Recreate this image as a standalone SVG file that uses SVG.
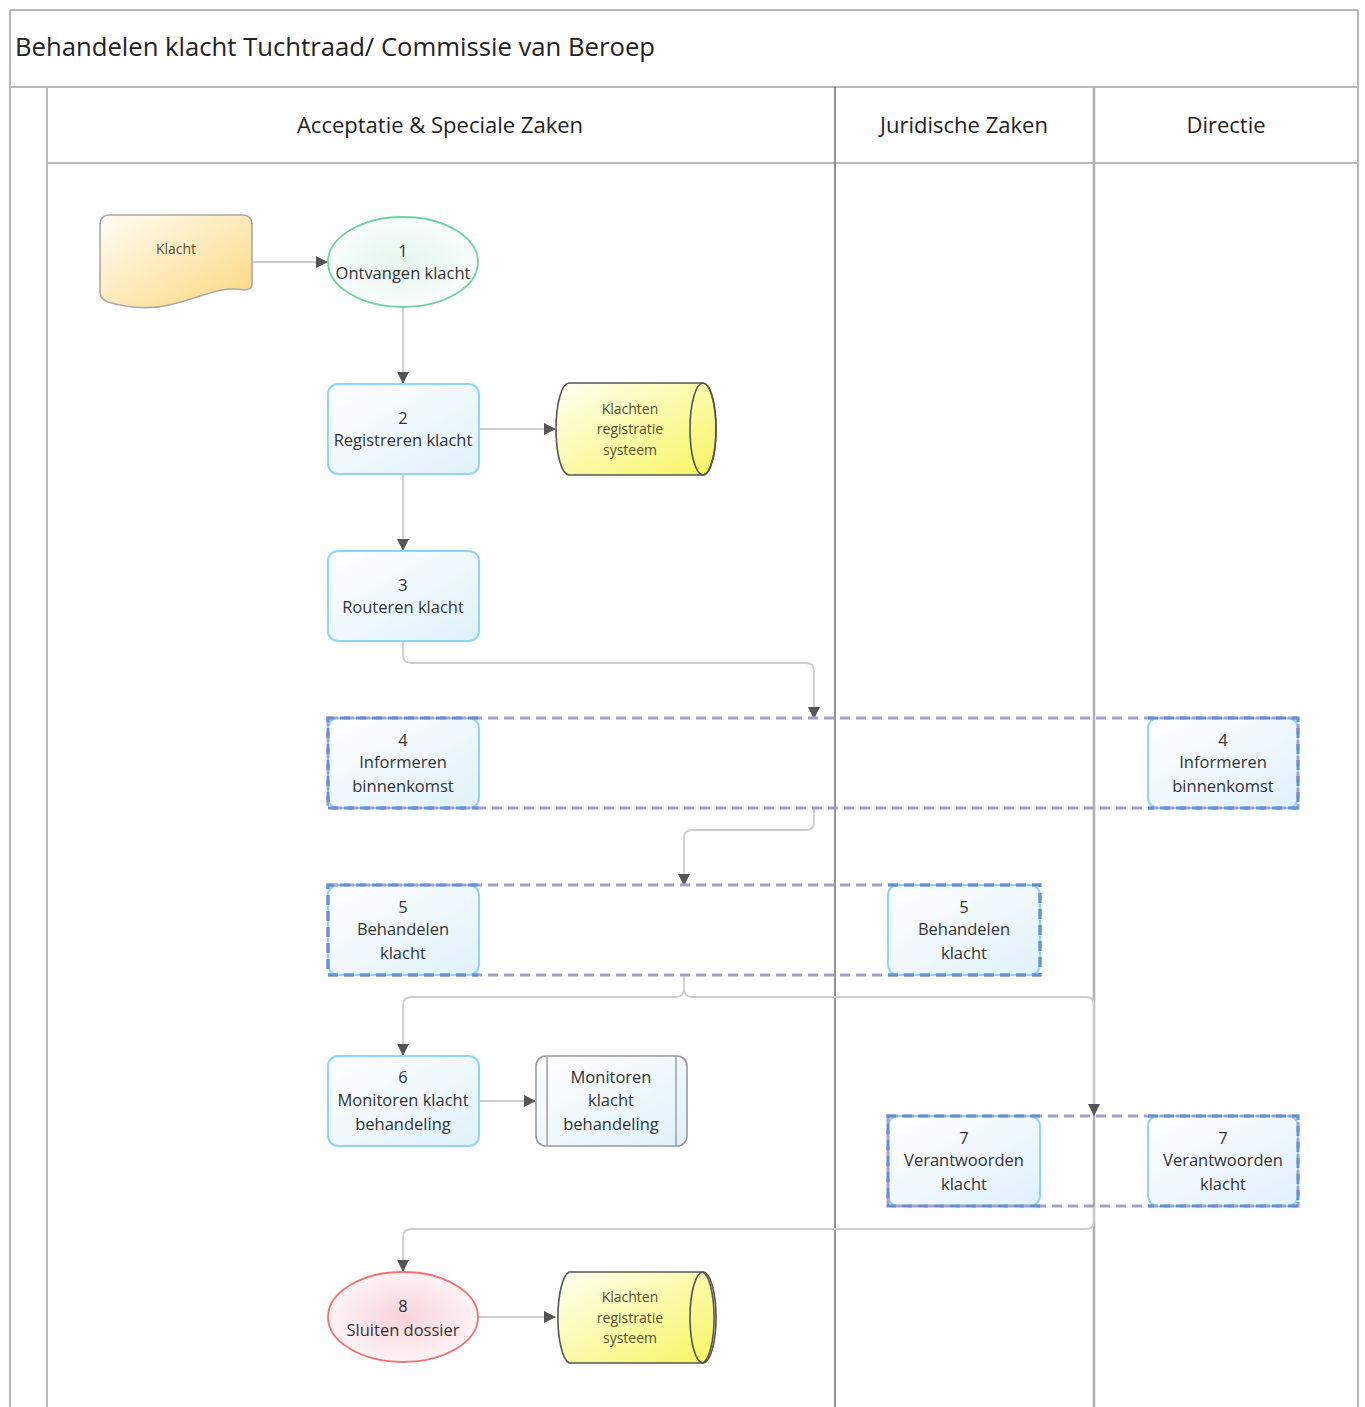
<svg xmlns="http://www.w3.org/2000/svg" width="1365" height="1407" viewBox="0 0 1365 1407">
<style>
.frame{stroke:#b8b8b8;stroke-width:2;fill:none}
.t{font-family:"Open Sans","Liberation Sans",sans-serif;fill:#333;text-anchor:middle}
.title{font-family:"Open Sans","Liberation Sans",sans-serif;fill:#222;font-size:25px}
.hdr{font-size:22px;fill:#222}
.n{font-size:16.5px}
.s{font-size:14px;fill:#5a5030}
.box{fill:url(#gBox);stroke:#8fd6f6;stroke-width:2}
.band{fill:none;stroke:#a39fd2;stroke-width:3;stroke-dasharray:10 6}
.bandb{fill:none;stroke:#5f90d8;stroke-width:3;stroke-dasharray:10 6}
.conn{fill:none;stroke:#cdcdcd;stroke-width:1.8}
.cyl{fill:url(#gCyl);stroke:#555;stroke-width:1.6}
</style>
<defs>
<linearGradient id="gBox" x1="0" y1="0" x2="1" y2="1"><stop offset="0" stop-color="#ffffff"/><stop offset="1" stop-color="#dff1fb"/></linearGradient>
<linearGradient id="gDoc" x1="0" y1="0" x2="1" y2="1"><stop offset="0" stop-color="#fffdf5"/><stop offset="1" stop-color="#fcd77e"/></linearGradient>
<linearGradient id="gCyl" x1="0" y1="0" x2="1" y2="1"><stop offset="0" stop-color="#fffff2"/><stop offset="1" stop-color="#f6f560"/></linearGradient>
<radialGradient id="gGreen"><stop offset="0" stop-color="#e4f6ee"/><stop offset="1" stop-color="#f8fdfb"/></radialGradient>
<radialGradient id="gRed"><stop offset="0" stop-color="#f7d3d9"/><stop offset="1" stop-color="#fdf3f5"/></radialGradient>
<marker id="arr" markerWidth="12" markerHeight="12" refX="11" refY="6" orient="auto" markerUnits="userSpaceOnUse"><path d="M0,0 L12,6 L0,12 Z" fill="#555"/></marker>
</defs>

<g id="frame">
<line class="frame" x1="10" y1="10" x2="1358" y2="10"/>
<line class="frame" x1="10" y1="10" x2="10" y2="1407"/>
<line class="frame" x1="1358" y1="10" x2="1358" y2="1407"/>
<line class="frame" x1="10" y1="87" x2="1358" y2="87"/>
<line class="frame" x1="47" y1="87" x2="47" y2="1407"/>
<line class="frame" x1="47" y1="163" x2="1358" y2="163"/>
<line x1="835" y1="87" x2="835" y2="1407" stroke="#7a7a7a" stroke-width="1.6"/>
<line x1="1094" y1="87" x2="1094" y2="1407" stroke="#b0b0b0" stroke-width="2.5"/>
<text class="title" x="15" y="56" textLength="640" lengthAdjust="spacingAndGlyphs">Behandelen klacht Tuchtraad/ Commissie van Beroep</text>
<text class="t hdr" x="440" y="133">Acceptatie &amp; Speciale Zaken</text>
<text class="t hdr" x="964" y="133">Juridische Zaken</text>
<text class="t hdr" x="1226" y="133">Directie</text>
</g>

<g id="connectors">
<path class="conn" d="M252,262 L327,262" marker-end="url(#arr)"/>
<path class="conn" d="M403,307 L403,383" marker-end="url(#arr)"/>
<path class="conn" d="M479,429 L555,429" marker-end="url(#arr)"/>
<path class="conn" d="M403,474 L403,550" marker-end="url(#arr)"/>
<path class="conn" d="M403,641 L403,655 Q403,663 411,663 L806,663 Q814,663 814,671 L814,718" marker-end="url(#arr)"/>
<path class="conn" d="M814,808 L814,822 Q814,830 806,830 L692,830 Q684,830 684,838 L684,885" marker-end="url(#arr)"/>
<path class="conn" d="M684,975 L684,989 Q684,997 676,997 L411,997 Q403,997 403,1005 L403,1055" marker-end="url(#arr)"/>
<path class="conn" d="M684,989 Q684,997 692,997 L1086,997 Q1094,997 1094,1005 L1094,1115" marker-end="url(#arr)"/>
<path class="conn" d="M479,1101 L535,1101" marker-end="url(#arr)"/>
<path class="conn" d="M1094,1206 L1094,1221 Q1094,1229 1086,1229 L411,1229 Q403,1229 403,1237 L403,1271" marker-end="url(#arr)"/>
<path class="conn" d="M478,1317 L555,1317" marker-end="url(#arr)"/>
</g>

<g id="klacht">
<path d="M100,225 Q100,215 110,215 L242,215 Q252,215 252,225 L252,284 Q252,290 244,290 C205,282 175,322 108,302 Q100,299 100,292 Z" fill="url(#gDoc)" stroke="#aaa" stroke-width="1.6"/>
<text class="t s" x="176" y="254">Klacht</text>
</g>

<g id="n1">
<ellipse cx="403" cy="262" rx="75" ry="45" fill="url(#gGreen)" stroke="#6dd3a0" stroke-width="1.8"/>
<text class="t n" x="403" y="257">1</text>
<text class="t n" x="403" y="279">Ontvangen klacht</text>
</g>

<g id="n2">
<rect class="box" x="328" y="384" width="151" height="90" rx="10"/>
<text class="t n" x="403" y="424">2</text>
<text class="t n" x="403" y="446">Registreren klacht</text>
</g>

<g id="db1">
<path class="cyl" d="M569,383 L703,383 A13,46 0 0 1 703,475 L569,475 A13,46 0 0 1 569,383 Z"/>
<ellipse cx="703" cy="429" rx="13" ry="46" fill="none" stroke="#555" stroke-width="1.6"/>
<text class="t s" x="630" y="414">Klachten</text>
<text class="t s" x="630" y="434">registratie</text>
<text class="t s" x="630" y="455">systeem</text>
</g>

<g id="n3">
<rect class="box" x="328" y="551" width="151" height="90" rx="10"/>
<text class="t n" x="403" y="591">3</text>
<text class="t n" x="403" y="613">Routeren klacht</text>
</g>

<g id="n4">
<rect class="box" x="328" y="718" width="151" height="90" rx="10"/>
<rect class="box" x="1148" y="718" width="150" height="90" rx="10"/>
<rect class="band" x="328" y="718" width="970" height="90"/>
<path class="bandb" d="M478,718 L328,718 L328,808 L478,808"/>
<path class="bandb" d="M1148,718 L1298,718 L1298,808 L1148,808"/>
<text class="t n" x="403" y="746">4</text>
<text class="t n" x="403" y="768">Informeren</text>
<text class="t n" x="403" y="792">binnenkomst</text>
<text class="t n" x="1223" y="746">4</text>
<text class="t n" x="1223" y="768">Informeren</text>
<text class="t n" x="1223" y="792">binnenkomst</text>
</g>

<g id="n5">
<rect class="box" x="328" y="885" width="151" height="90" rx="10"/>
<rect class="box" x="888" y="885" width="152" height="90" rx="10"/>
<rect class="band" x="328" y="885" width="712" height="90"/>
<path class="bandb" d="M478,885 L328,885 L328,975 L478,975"/>
<path class="bandb" d="M888,885 L1040,885 L1040,975 L888,975"/>
<text class="t n" x="403" y="913">5</text>
<text class="t n" x="403" y="935">Behandelen</text>
<text class="t n" x="403" y="959">klacht</text>
<text class="t n" x="964" y="913">5</text>
<text class="t n" x="964" y="935">Behandelen</text>
<text class="t n" x="964" y="959">klacht</text>
</g>

<g id="n6">
<rect class="box" x="328" y="1056" width="151" height="90" rx="10"/>
<text class="t n" x="403" y="1083">6</text>
<text class="t n" x="403" y="1106">Monitoren klacht</text>
<text class="t n" x="403" y="1130">behandeling</text>
</g>

<g id="proc">
<rect x="536" y="1056" width="151" height="90" rx="10" fill="url(#gBox)" stroke="#9a9a9a" stroke-width="1.6"/>
<line x1="547" y1="1056" x2="547" y2="1146" stroke="#9a9a9a" stroke-width="1.4"/>
<line x1="676" y1="1056" x2="676" y2="1146" stroke="#9a9a9a" stroke-width="1.4"/>
<text class="t n" x="611" y="1083">Monitoren</text>
<text class="t n" x="611" y="1106">klacht</text>
<text class="t n" x="611" y="1130">behandeling</text>
</g>

<g id="n7">
<rect class="box" x="888" y="1116" width="152" height="90" rx="10"/>
<rect class="box" x="1148" y="1116" width="150" height="90" rx="10"/>
<rect class="band" x="888" y="1116" width="410" height="90"/>
<path class="bandb" d="M1040,1116 L888,1116 L888,1206 L1040,1206"/>
<path class="bandb" d="M1148,1116 L1298,1116 L1298,1206 L1148,1206"/>
<text class="t n" x="964" y="1144">7</text>
<text class="t n" x="964" y="1166">Verantwoorden</text>
<text class="t n" x="964" y="1190">klacht</text>
<text class="t n" x="1223" y="1144">7</text>
<text class="t n" x="1223" y="1166">Verantwoorden</text>
<text class="t n" x="1223" y="1190">klacht</text>
</g>

<g id="n8">
<ellipse cx="403" cy="1317" rx="75" ry="45" fill="url(#gRed)" stroke="#f07272" stroke-width="1.8"/>
<text class="t n" x="403" y="1312">8</text>
<text class="t n" x="403" y="1336">Sluiten dossier</text>
</g>

<g id="db2">
<path class="cyl" d="M569,1272 L703,1272 A13,46 0 0 1 703,1363 L569,1363 A13,46 0 0 1 569,1272 Z"/>
<ellipse cx="703" cy="1317.5" rx="13" ry="45.5" fill="none" stroke="#555" stroke-width="1.6"/>
<text class="t s" x="630" y="1302">Klachten</text>
<text class="t s" x="630" y="1323">registratie</text>
<text class="t s" x="630" y="1343">systeem</text>
</g>
</svg>
